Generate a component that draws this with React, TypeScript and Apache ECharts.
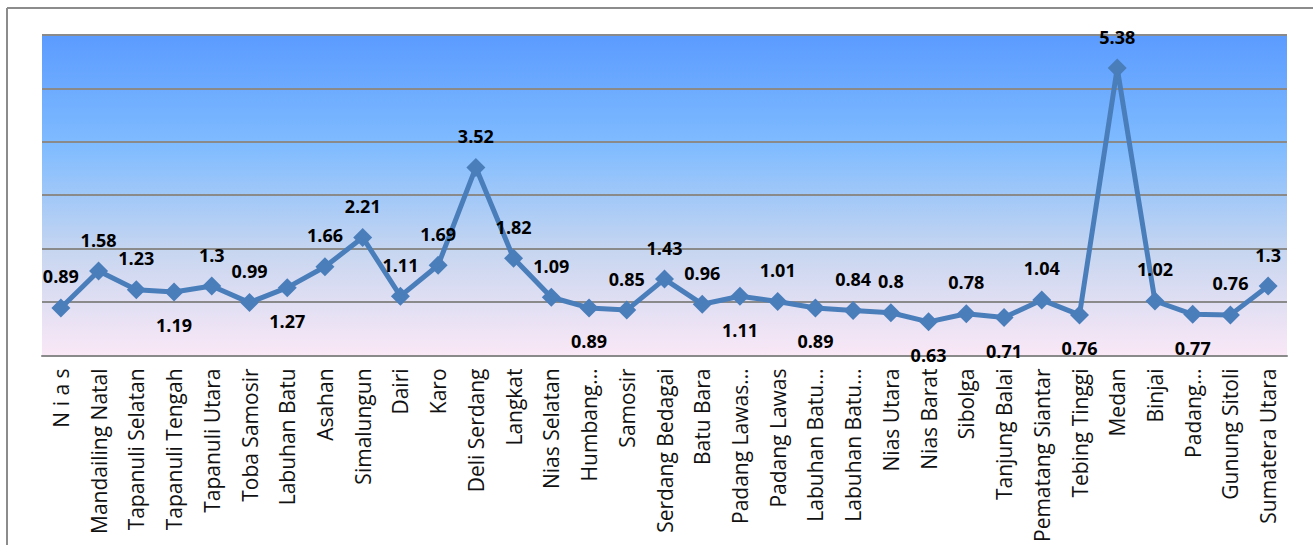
import React, { useEffect, useRef } from "react";
import * as echarts from "echarts";

const categories: string[] = [
  "N i a s",
  "Mandailing Natal",
  "Tapanuli Selatan",
  "Tapanuli Tengah",
  "Tapanuli Utara",
  "Toba Samosir",
  "Labuhan Batu",
  "Asahan",
  "Simalungun",
  "Dairi",
  "Karo",
  "Deli Serdang",
  "Langkat",
  "Nias Selatan",
  "Humbang…",
  "Samosir",
  "Serdang Bedagai",
  "Batu Bara",
  "Padang Lawas…",
  "Padang Lawas",
  "Labuhan Batu…",
  "Labuhan Batu…",
  "Nias Utara",
  "Nias Barat",
  "Sibolga",
  "Tanjung Balai",
  "Pematang Siantar",
  "Tebing Tinggi",
  "Medan",
  "Binjai",
  "Padang…",
  "Gunung Sitoli",
  "Sumatera Utara",
];

const values: number[] = [
  0.89, 1.58, 1.23, 1.19, 1.3, 0.99, 1.27, 1.66, 2.21, 1.11, 1.69, 3.52, 1.82,
  1.09, 0.89, 0.85, 1.43, 0.96, 1.11, 1.01, 0.89, 0.84, 0.8, 0.63, 0.78, 0.71,
  1.04, 0.76, 5.38, 1.02, 0.77, 0.76, 1.3,
];

// label placement: "t" above, "b" below
const labelSide: string[] = [
  "t", "t", "t", "b", "t", "t", "b", "t", "t", "t", "t", "t", "t",
  "t", "b", "t", "t", "t", "b", "t", "b", "t", "t", "b", "t", "b",
  "t", "b", "t", "t", "b", "t", "t",
];

const yMin = 0;
const yMax = 6;
const yInterval = 1;

export default function App() {
  const ref = useRef<HTMLDivElement>(null);

  useEffect(() => {
    if (!ref.current) return;
    const chart = echarts.init(ref.current, null, { renderer: "svg" });
    const data = values.map((v, i) => ({
      value: v,
      label: {
        position: labelSide[i] === "t" ? "top" : "bottom",
        distance: labelSide[i] === "t" ? 12 : 14,
      },
    }));
    chart.setOption({
      animation: false,
      backgroundColor: "#ffffff",
      grid: {
        left: 42,
        right: 26,
        top: 35,
        bottom: 189,
        show: true,
        borderWidth: 0,
        backgroundColor: new echarts.graphic.LinearGradient(0, 0, 0, 1, [
          { offset: 0, color: "rgb(91,155,255)" },
          { offset: 0.35, color: "rgb(128,188,255)" },
          { offset: 0.68, color: "rgb(200,214,240)" },
          { offset: 1, color: "rgb(250,232,246)" },
        ]),
      },
      graphic: [
        {
          type: "line",
          shape: { x1: 7, y1: 8, x2: 1313, y2: 8 },
          style: { stroke: "#8c8c8c", lineWidth: 2 },
        },
        {
          type: "line",
          shape: { x1: 7, y1: 8, x2: 7, y2: 545 },
          style: { stroke: "#8c8c8c", lineWidth: 2 },
        },
      ],
      xAxis: {
        type: "category",
        data: categories,
        boundaryGap: true,
        axisLine: { show: true, lineStyle: { color: "#8a8a8a", width: 2 } },
        axisTick: { show: false },
        axisLabel: {
          rotate: 90,
          interval: 0,
          margin: 13,
          color: "#111",
          fontFamily: "Open Sans",
          fontSize: 21,
        },
      },
      yAxis: {
        type: "value",
        min: yMin,
        max: yMax,
        interval: yInterval,
        axisLine: { show: false },
        axisTick: { show: false },
        axisLabel: { show: false },
        splitLine: { show: true, lineStyle: { color: "#8a8a8a", width: 2 } },
      },
      series: [
        {
          type: "line",
          data,
          symbol: "diamond",
          symbolSize: 19,
          lineStyle: { color: "#4A7EBB", width: 5 },
          itemStyle: { color: "#4A7EBB" },
          label: {
            show: true,
            color: "#000",
            fontFamily: "Open Sans",
            fontWeight: "bold",
            fontSize: 18,
            lineHeight: 20,
          },
        },
      ],
    });
    return () => chart.dispose();
  }, []);

  return (
    <div
      ref={ref}
      style={{ position: "fixed", left: 0, top: 0, width: 1313, height: 545 }}
    />
  );
}
